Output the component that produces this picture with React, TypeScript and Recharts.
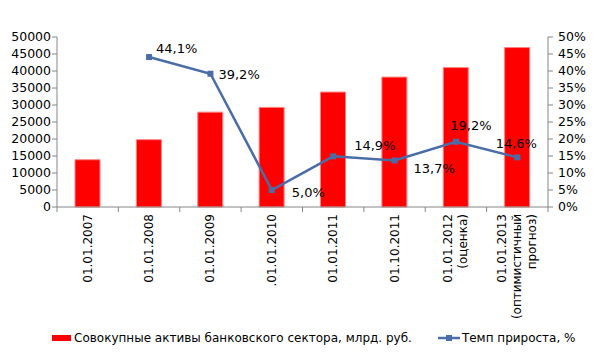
import { Bar, ComposedChart, LabelList, Line, XAxis, YAxis } from "recharts";

const CATEGORIES = [
  "01.01.2007",
  "01.01.2008",
  "01.01.2009",
  ".01.01.2010",
  "01.01.2011",
  "01.10.2011",
  "01.01.2012\n(оценка)",
  "01.01.2013\n(оптимистичный\nпрогноз)",
];
const ASSETS = [13900, 19800, 27900, 29300, 33800, 38200, 41000, 46900];
const GROWTH = [null, 44.1, 39.2, 5.0, 14.9, 13.7, 19.2, 14.6];
const ASSET_TICKS = [0, 5000, 10000, 15000, 20000, 25000, 30000, 35000, 40000, 45000, 50000];
const GROWTH_TICKS = [0, 5, 10, 15, 20, 25, 30, 35, 40, 45, 50];
const ASSETS_NAME = "Совокупные активы банковского сектора, млрд. руб.";
const GROWTH_NAME = "Темп прироста, %";

const data = CATEGORIES.map((c, i) => ({
  name: c,
  assets: ASSETS[i],
  growth: GROWTH[i],
}));

const FONT = "'DejaVu Sans', Verdana, sans-serif";
const AXIS = "#868686";
const RED = "#FF0000";
const BLUE = "#4A6DA7";
const PLOT_LEFT = 57;
const PLOT_RIGHT = 548;
const BAND = (PLOT_RIGHT - PLOT_LEFT) / CATEGORIES.length;

// label placement per point, tweaked by eye
const LABEL_OFFSETS: Record<number, [number, number, "start" | "middle"]> = {
  1: [7, -9, "start"],
  2: [8, 1, "start"],
  3: [20, 2, "start"],
  4: [21, -11, "start"],
  5: [19, 8, "start"],
  6: [15, -16, "middle"],
  7: [-1, -14, "middle"],
};

function CategoryTick(props: any) {
  const { x, y, payload, index } = props;
  const lines = String(payload.value).split("\n");
  const n = lines.length;
  return (
    <g>
      <line x1={x - BAND / 2} x2={x - BAND / 2} y1={y - 8} y2={y - 3} stroke={AXIS} />
      {index === CATEGORIES.length - 1 && (
        <line x1={x + BAND / 2} x2={x + BAND / 2} y1={y - 8} y2={y - 3} stroke={AXIS} />
      )}
      {lines.map((ln, i) => (
        <text
          key={i}
          x={0}
          y={0}
          transform={`translate(${x + (i - (n - 1) / 2) * 15 + 4}, ${y - 1}) rotate(-90)`}
          textAnchor="end"
          fontSize={12}
          fontFamily={FONT}
          fill="#000"
        >
          {ln}
        </text>
      ))}
    </g>
  );
}

function GrowthLabel(props: any) {
  const { x, y, value, index } = props;
  if (value == null) return null;
  const [dx, dy, anchor] = LABEL_OFFSETS[index] ?? [0, -12, "middle"];
  return (
    <text
      x={x + dx}
      y={y + dy}
      textAnchor={anchor}
      dominantBaseline="central"
      fontSize={13}
      fontFamily={FONT}
      fill="#000"
    >
      {value.toFixed(1).replace(".", ",")}%
    </text>
  );
}

function SquareDot(props: any) {
  const { cx, cy } = props;
  if (cx == null || cy == null) return null;
  return <rect x={cx - 3} y={cy - 3} width={6} height={6} fill={BLUE} />;
}

export default function App() {
  return (
    <div style={{ position: "absolute", left: 0, top: 0, width: 600, height: 356, fontFamily: FONT }}>
      <ComposedChart
        width={600}
        height={356}
        data={data}
        margin={{ top: 37, bottom: 19, left: PLOT_LEFT - 50, right: 600 - PLOT_RIGHT - 50 }}
        barSize={25}
      >
        <XAxis
          dataKey="name"
          height={130}
          interval={0}
          stroke={AXIS}
          tickLine={false}
          tick={<CategoryTick />}
        />
        <YAxis
          yAxisId="left"
          width={50}
          domain={[0, 50000]}
          ticks={ASSET_TICKS}
          interval={0}
          stroke={AXIS}
          tickSize={5}
          tickMargin={1}
          tick={{ fill: "#000", fontSize: 12.5, fontFamily: FONT }}
        />
        <YAxis
          yAxisId="right"
          orientation="right"
          width={50}
          domain={[0, 50]}
          ticks={GROWTH_TICKS}
          interval={0}
          stroke={AXIS}
          tickSize={5}
          tickMargin={5}
          tickFormatter={(v) => `${v}%`}
          tick={{ fill: "#000", fontSize: 12.5, fontFamily: FONT, textAnchor: "start" }}
        />
        <Bar
          yAxisId="left"
          dataKey="assets"
          name={ASSETS_NAME}
          fill={RED}
          stroke="#FF8080"
          strokeWidth={1}
          isAnimationActive={false}
        />
        <Line
          yAxisId="right"
          dataKey="growth"
          name={GROWTH_NAME}
          stroke={BLUE}
          strokeWidth={2.5}
          dot={<SquareDot />}
          activeDot={false}
          connectNulls={false}
          isAnimationActive={false}
        >
          <LabelList dataKey="growth" content={<GrowthLabel />} />
        </Line>
      </ComposedChart>
      <div
        style={{
          position: "absolute",
          left: 52,
          top: 331,
          display: "flex",
          alignItems: "center",
          fontSize: 12,
          color: "#000",
          whiteSpace: "nowrap",
        }}
      >
        <span style={{ display: "inline-block", width: 19, height: 6, background: RED, marginRight: 3 }} />
        <span>{ASSETS_NAME}</span>
        <svg width={22} height={8} style={{ marginLeft: 26, marginRight: 2 }}>
          <line x1={0} x2={22} y1={4} y2={4} stroke={BLUE} strokeWidth={2.5} />
          <rect x={8} y={1} width={6} height={6} fill={BLUE} />
        </svg>
        <span>{GROWTH_NAME}</span>
      </div>
    </div>
  );
}
